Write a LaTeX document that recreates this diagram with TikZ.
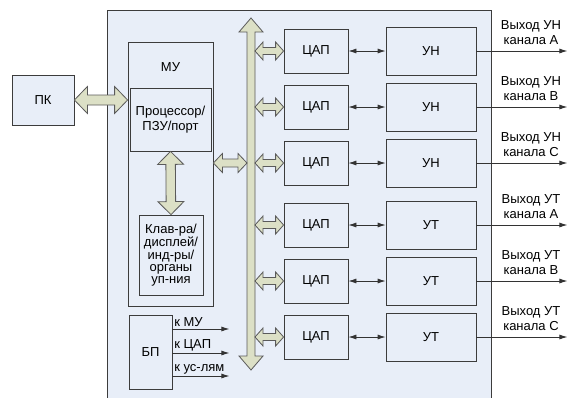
\documentclass[tikz,border=0pt]{standalone}
\usepackage{fontspec}
\setmainfont{Liberation Sans}
\definecolor{panelblue}{RGB}{232,238,248}
\definecolor{busfill}{RGB}{220,224,198}
\definecolor{busline}{RGB}{90,90,90}
\definecolor{linegray}{RGB}{60,60,60}
\usetikzlibrary{arrows.meta,positioning,calc}
% fat two-headed link: from, to, half shaft, half head, head length
\newcommand\fatlink[5]{%
  \draw[fatline] (#1)
    -- ($($(#1)!#5!(#2)$)!#4!90:(#2)$)
    -- ($($(#1)!#5!(#2)$)!#3!90:(#2)$)
    -- ($($(#2)!#5!(#1)$)!#3!-90:(#1)$)
    -- ($($(#2)!#5!(#1)$)!#4!-90:(#1)$)
    -- (#2)
    -- ($($(#2)!#5!(#1)$)!#4!90:(#1)$)
    -- ($($(#2)!#5!(#1)$)!#3!90:(#1)$)
    -- ($($(#1)!#5!(#2)$)!#3!-90:(#2)$)
    -- ($($(#1)!#5!(#2)$)!#4!-90:(#2)$)
    -- cycle;}

\begin{document}
\begin{tikzpicture}[x=1pt,y=-1pt,font=\fontsize{13}{15}\selectfont,line width=0.8pt,
  blockbox/.style={draw=linegray,fill=panelblue,inner sep=1pt,align=center},
  fatline/.style={draw=busline,fill=busfill,line join=miter},
  thinarrow/.style={draw=black!80,{Latex[length=8pt,width=5pt]}-{Latex[length=8pt,width=5pt]}},
  outarrow/.style={draw=black!80,-{Latex[length=8pt,width=5pt]}}]
  \useasboundingbox (0,0) rectangle (570,397);
  % board
  \draw[draw=linegray,fill=panelblue] (107,10) rectangle (491,405);
  \node[blockbox,minimum width=62pt,minimum height=50pt] (pc) at (43,100) {ПК};
  \node[blockbox,minimum width=85pt,minimum height=264pt] (mu) at (170.5,174) {};
  \node (mutext) at (170.5,67) {МУ};
  \node[blockbox,minimum width=81pt,minimum height=63pt] (cpu) at (170.5,119.5) {Процессор/\\ПЗУ/порт};
  \node[blockbox,minimum width=64pt,minimum height=80pt,inner sep=0pt,
    font=\fontsize{13}{11.8}\selectfont] (kbd) at (171,255) {Клав-ра/\\дисплей/\\инд-ры/\\органы\\уп-ния};
  \node[blockbox,minimum width=43pt,minimum height=74pt] (psu) at (150.5,352) {БП};
  % bus
  \coordinate (bustop) at (251,18);
  \coordinate (busbot) at (251,370);
  \fatlink{bustop}{busbot}{4pt}{12pt}{14pt}
  \coordinate (busL) at (247,0);
  \coordinate (busR) at (255,0);
  % converters and amplifiers
  \foreach \i/\y/\amp/\ch in {1/51/УН/А,2/107/УН/В,3/163/УН/С,4/225/УТ/А,5/281/УТ/В,6/337/УТ/С}{
    \node[blockbox,minimum width=64pt,minimum height=44pt] (dac\i) at (316,\y) {ЦАП};
    \node[blockbox,minimum width=90pt,minimum height=48pt] (amp\i) at (431,\y) {\amp};
    \draw[thinarrow] (dac\i.east) -- (amp\i.west);
    \draw[outarrow] (amp\i.east) -- ++(91,0)
      node[pos=0.6,above,align=center,inner sep=3pt,yshift=3pt] (out\i) {Выход \amp\\канала \ch};
    \coordinate (tap\i) at (busR |- dac\i.west);
    \fatlink{tap\i}{dac\i.west}{3.5pt}{9pt}{8pt}
  }
  % fat links
  \coordinate (muL) at (pc.east -| mu.west);
  \fatlink{pc.east}{muL}{5pt}{13.5pt}{13pt}
  \fatlink{cpu.south}{kbd.north}{4.75pt}{13pt}{13pt}
  \coordinate (muR) at (mu.east |- dac3.west);
  \coordinate (busin) at (busL |- dac3.west);
  \fatlink{muR}{busin}{4pt}{9.5pt}{9pt}
  % power
  \draw[outarrow] ([yshift=23pt]psu.east) -- ++(57,0)
    node[pos=0,anchor=south west,inner sep=1.5pt] (pwr1) {к МУ};
  \draw[outarrow] ([yshift=-1pt]psu.east) -- ++(57,0)
    node[pos=0,anchor=south west,inner sep=1.5pt] (pwr2) {к ЦАП};
  \draw[outarrow] ([yshift=-24pt]psu.east) -- ++(57,0)
    node[pos=0,anchor=south west,inner sep=1.5pt] (pwr3) {к ус-лям};
\end{tikzpicture}
\end{document}
